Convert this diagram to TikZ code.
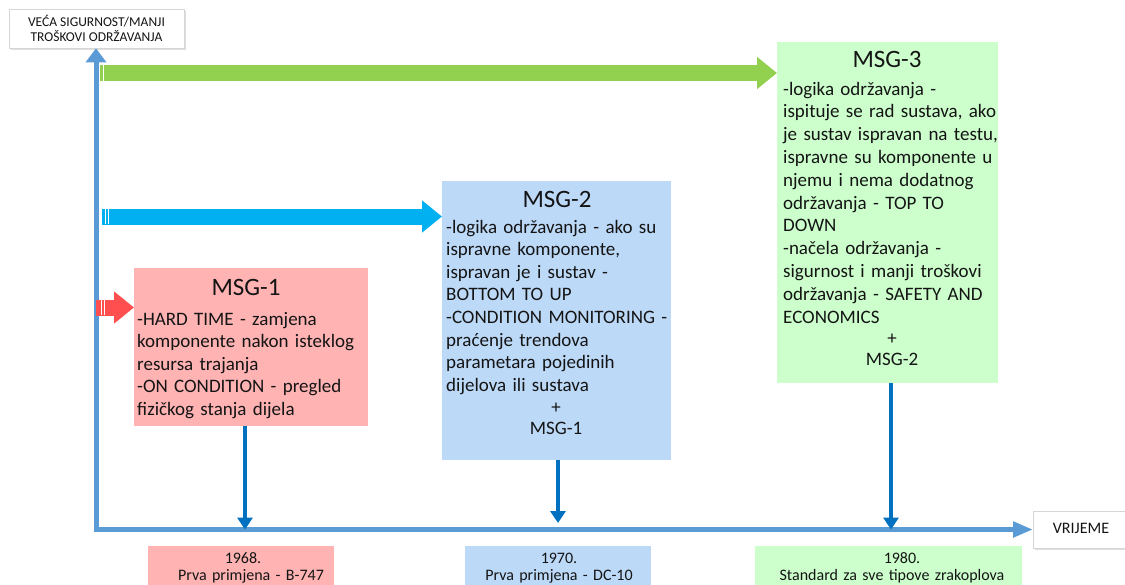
\documentclass[tikz,border=0pt]{standalone}
\usepackage{fontspec}
\setmainfont{Carlito}
\usetikzlibrary{arrows.meta,shadows}
\definecolor{axisc}{HTML}{5B9BD5}
\definecolor{darrc}{HTML}{0070C0}
\definecolor{pinkc}{HTML}{FFB3B3}
\definecolor{bluec}{HTML}{BDD9F8}
\definecolor{greenc}{HTML}{CCFFCC}
\definecolor{garr}{HTML}{92D050}
\definecolor{carr}{HTML}{00B0F0}
\definecolor{rarr}{HTML}{FF4F4F}
\definecolor{txtc}{HTML}{141414}
\definecolor{edgec}{HTML}{D6D6D6}
\tikzset{
  boxshape/.style={rectangle, draw=none, inner sep=0pt, anchor=north west},
  titletxt/.style={anchor=base, inner sep=0pt, text=txtc, font=\fontsize{25}{30}\selectfont},
  bodytxt/.style={anchor=base west, inner sep=0pt, text width=300pt, align=left, text=txtc, font=\fontsize{19}{22.6}\selectfont},
  plustxt/.style={anchor=base, inner sep=0pt, text width=80pt, align=center, text=txtc, font=\fontsize{19}{21.5}\selectfont},
  smalltxt/.style={anchor=base, inner sep=0pt, text width=280pt, align=center, text=txtc, font=\fontsize{16}{17.5}\selectfont},
  whitebox/.style={rectangle, fill=white, draw=edgec, line width=0.6pt, inner sep=0pt,
    drop shadow={shadow xshift=1.5pt, shadow yshift=-1.5pt, fill=black!25, opacity=0.5}},
  axisline/.style={draw=axisc, line width=5pt},
  darrow/.style={draw=darrc, line width=3.5pt, -{Triangle[length=12pt,width=15pt]}},
  fatarrow/.style={line width=16pt, -{Triangle[length=20pt,width=31pt]}},
}
\begin{document}
\begin{tikzpicture}[x=1pt,y=-1pt]
\useasboundingbox (0,0) rectangle (1125,584);
\fill[white] (0,0) rectangle (1125,584);

% label boxes
\node[whitebox, minimum width=175pt, minimum height=39pt, align=center, text=txtc,
      font=\fontsize{13.5}{15.5}\selectfont] (lbl) at (96.5,28.5)
      {VEĆA SIGURNOST/MANJI\\TROŠKOVI ODRŽAVANJA};
\node[whitebox, minimum width=95pt, minimum height=37pt, anchor=north west] (vr) at (1033,511) {};
\node[anchor=base, inner sep=0pt, text=txtc, font=\fontsize{16}{18}\selectfont] (vrt) at (1081,533) {VRIJEME};

% axes
\coordinate (origin) at (96,529.5);
\draw[axisline, {Triangle[length=14pt,width=20pt]}-{Triangle[length=20pt,width=15pt]}]
  (96,0 |- lbl.south) -- (origin) -- (origin -| vr.west);

% boxes
\node[boxshape, fill=pinkc, minimum width=234pt, minimum height=158pt] (msg1) at (134,268) {};
\node[boxshape, fill=bluec, minimum width=229pt, minimum height=279pt] (msg2) at (442,181) {};
\node[boxshape, fill=greenc, minimum width=221pt, minimum height=341pt] (msg3) at (777,42) {};

% fat arrows
\draw[fatarrow, draw=garr] (100,73) -- (100,73 -| msg3.west);
\draw[white, line width=1pt] (103.5,65) -- (103.5,81);
\draw[fatarrow, draw=carr] (102,216.5) -- (102,216.5 -| msg2.west);
\draw[white, line width=0.8pt] (105,209) -- (105,224) (108,209) -- (108,224);
\draw[fatarrow, draw=rarr] (96,307.5) -- (96,307.5 -| msg1.west);
\draw[white, line width=0.8pt] (101,300) -- (101,315) (104,300) -- (104,315);

% titles and texts
\node[titletxt] (t1) at (246,295) {MSG-1};
\node[bodytxt] (b1) at (137,325) {-HARD TIME - zamjena\\komponente nakon isteklog\\resursa trajanja\\-ON CONDITION - pregled\\fizičkog stanja dijela};

\node[titletxt] (t2) at (557,207) {MSG-2};
\node[bodytxt] (b2) at (446,233) {-logika održavanja - ako su\\ispravne komponente,\\ispravan je i sustav -\\BOTTOM TO UP\\-CONDITION MONITORING -\\praćenje trendova\\parametara pojedinih\\dijelova ili sustava};
\node[plustxt] (p2) at (556,413) {+\\MSG-1};

\node[titletxt] (t3) at (887,67) {MSG-3};
\node[bodytxt, font=\fontsize{19}{22.8}\selectfont] (b3) at (783,95) {-logika održavanja -\\ispituje se rad sustava, ako\\je sustav ispravan na testu,\\ispravne su komponente u\\njemu i nema dodatnog\\održavanja - TOP TO\\DOWN\\-načela održavanja -\\sigurnost i manji troškovi\\održavanja - SAFETY AND\\ECONOMICS};
\node[plustxt] (p3) at (892,344) {+\\MSG-2};

% down arrows
\draw[darrow] (245,0 |- msg1.south) -- (245,0 |- origin);
\draw[darrow] (558,0 |- msg2.south) -- (558,523);
\draw[darrow] (891,0 |- msg3.south) -- (891,0 |- origin);

% bottom boxes
\node[boxshape, fill=pinkc, minimum width=186pt, minimum height=50pt] (y1) at (148,546) {};
\node[boxshape, fill=bluec, minimum width=186pt, minimum height=50pt] (y2) at (465,546) {};
\node[boxshape, fill=greenc, minimum width=267pt, minimum height=50pt] (y3) at (755,546) {};
\node[smalltxt] (y1t) at (243,563) {1968.\\\hspace*{16pt}Prva primjena - B-747};
\node[smalltxt] (y2t) at (559,563) {1970.\\Prva primjena - DC-10};
\node[smalltxt] (y3t) at (892,563) {\hspace*{20pt}1980.\\Standard za sve tipove zrakoplova};
\end{tikzpicture}
\end{document}
